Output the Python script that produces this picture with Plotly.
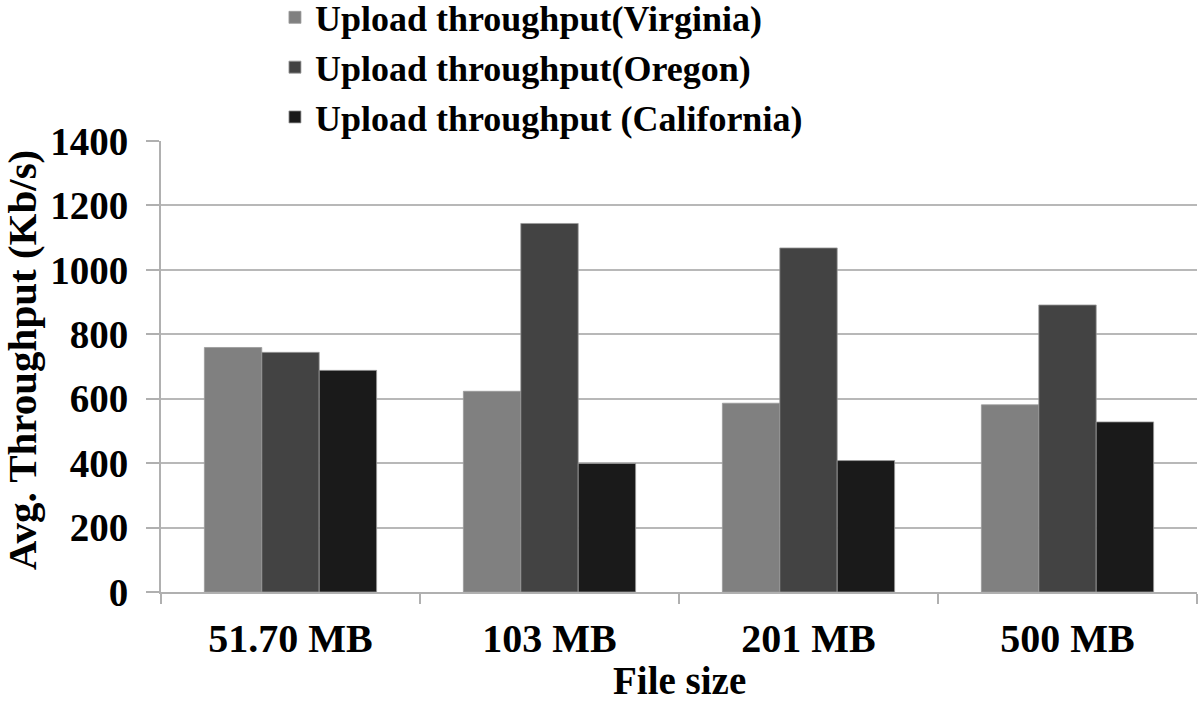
import plotly.graph_objects as go

categories = ["51.70 MB", "103 MB", "201 MB", "500 MB"]
virginia = [759, 623, 586, 581]
oregon = [744, 1144, 1068, 891]
california = [688, 399, 408, 528]
series_names = ["Upload throughput(Virginia)", "Upload throughput(Oregon)", "Upload throughput (California)"]
colors = ["#808080", "#434343", "#1a1a1a"]
y_ticks = [0, 200, 400, 600, 800, 1000, 1200, 1400]
x_title = "File size"
y_title = "Avg. Throughput (Kb/s)"

FONT = "Liberation Serif"

def f(size):
    return dict(family=FONT, size=size, color="black", weight="bold")

fig = go.Figure()
for name, vals, col in zip(series_names, [virginia, oregon, california], colors):
    fig.add_trace(go.Bar(
        x=categories, y=vals, name=name,
        marker=dict(color=col, line=dict(color="#9a9a9a", width=0.8)),
    ))

fig.update_layout(
    width=1200, height=702,
    paper_bgcolor="white", plot_bgcolor="white",
    margin=dict(l=161, r=3, t=141, b=110, autoexpand=False),
    barmode="group", bargap=0.335, bargroupgap=0,
    font=f(36),
    showlegend=True,
    legend=dict(
        x=0.110, xanchor="left", y=1.3405, yanchor="top",
        font=f(36),
        bgcolor="rgba(0,0,0,0)", tracegroupgap=0,
        itemwidth=30,
    ),
    xaxis=dict(
        tickfont=f(40),
        automargin=False,
        ticklabelstandoff=10,
        showline=True, linecolor="#b0b0b0", linewidth=2,
        ticks="outside", tickson="boundaries", ticklen=10, tickcolor="#b0b0b0", tickwidth=2,
        showgrid=False,
    ),
    yaxis=dict(
        tickfont=f(39),
        automargin=False,
        ticklabelstandoff=10,
        range=[0, 1400], tickvals=y_ticks,
        showline=True, linecolor="#b0b0b0", linewidth=2,
        ticks="outside", ticklen=13, tickcolor="#b0b0b0", tickwidth=2,
        showgrid=True, gridcolor="#b8b8b8", gridwidth=2,
        zeroline=False,
    ),
    annotations=[
        dict(text=x_title, xref="paper", yref="paper", x=0.5, y=-0.197,
             xanchor="center", yanchor="middle", showarrow=False, font=f(39)),
        dict(text=y_title, xref="paper", yref="paper", x=-0.1342, y=0.514,
             xanchor="center", yanchor="middle", textangle=-90, showarrow=False, font=f(41)),
    ],
)

fig.write_html("out.html", config={"displayModeBar": False},
               post_script="document.body.style.margin='0';")
